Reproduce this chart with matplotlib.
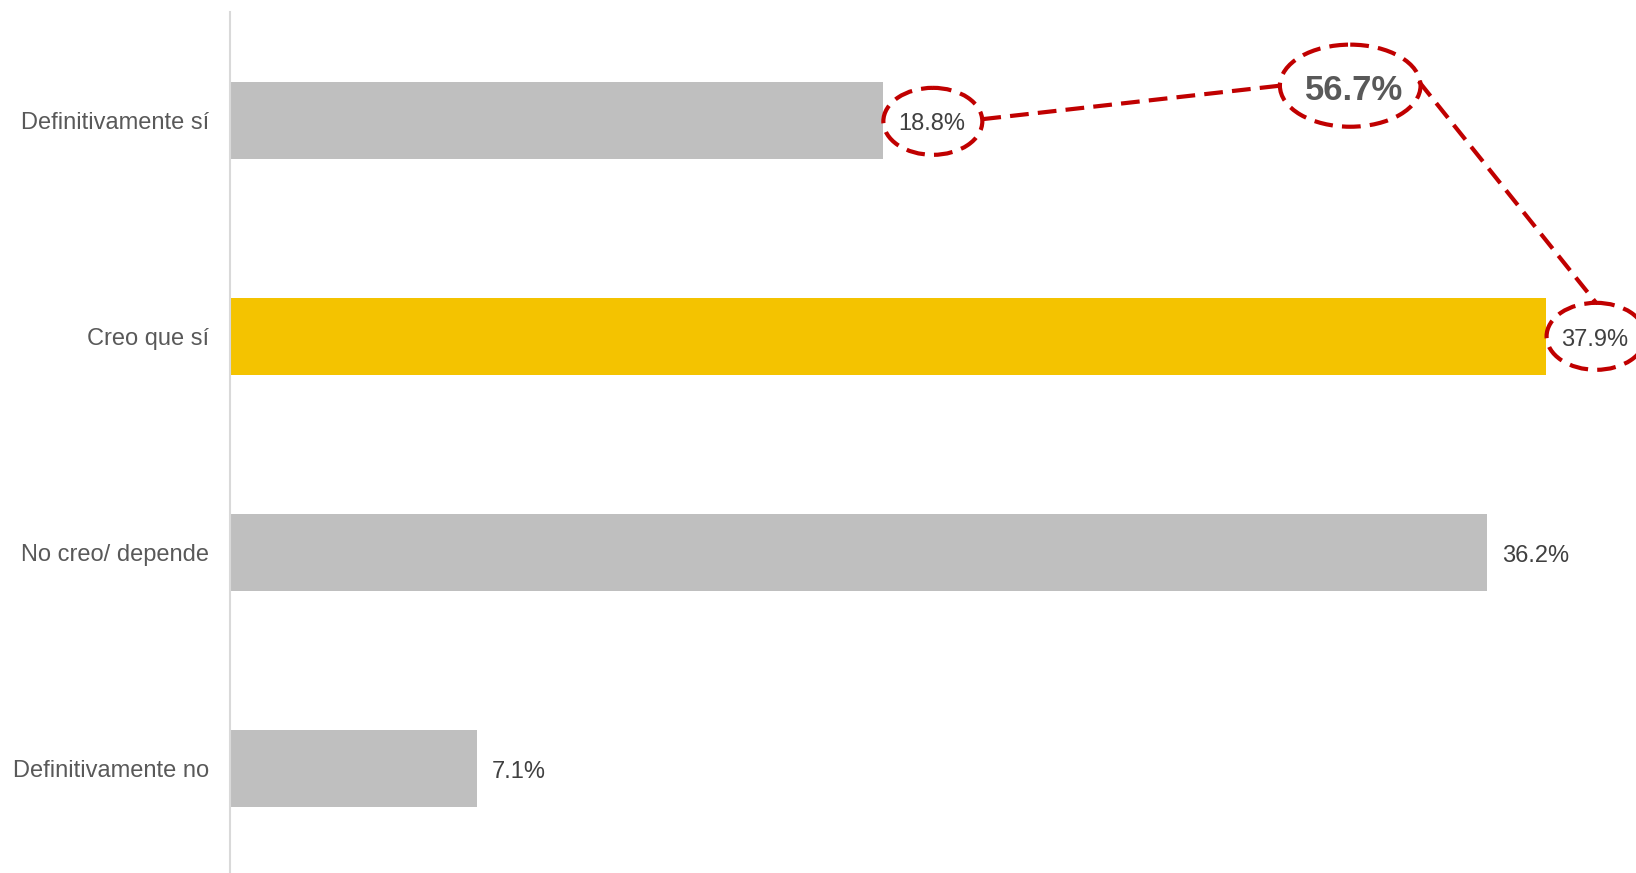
import matplotlib.pyplot as plt
from matplotlib.patches import Ellipse

plt.rcParams['font.family'] = ['Liberation Sans', 'DejaVu Sans']

categories = ["Definitivamente sí", "Creo que sí", "No creo/ depende", "Definitivamente no"]
values = [18.8, 37.9, 36.2, 7.1]
bar_colors = ["#BFBFBF", "#F4C300", "#BFBFBF", "#BFBFBF"]

total_yes = values[0] + values[1]

fig = plt.figure(figsize=(16.36, 8.73), dpi=100)
ax = fig.add_axes([0.1406, -0.004, 0.849, 0.99])

y = list(range(len(categories)))
ax.barh(y, values, height=0.356, color=bar_colors, zorder=2)

ax.set_xlim(0, 40)
ax.set_ylim(3.5, -0.5)
ax.set_yticks(y)
ax.set_yticklabels(categories, fontsize=17, color="#595959")
ax.tick_params(axis="y", length=0, pad=15)
ax.set_xticks([])
for side in ["top", "right", "bottom"]:
    ax.spines[side].set_visible(False)
ax.spines["left"].set_color("#D9D9D9")
ax.spines["left"].set_linewidth(1.5)

# value labels next to each bar
for i, v in enumerate(values):
    ax.text(v + 0.44, i + 0.018, f"{v:.1f}%", va="center", ha="left",
            fontsize=17, color="#404040", clip_on=False)

red = "#C00000"
dash_style = (0, (4.5, 2.2))
dash = dict(color=red, lw=3, linestyle=dash_style, clip_on=False)

# dashed circles round the two "yes" answers
ew, eh = 2.85, 0.31
c1 = (values[0] + 1.44, 0.005)
c2 = (values[1] + 1.44, 1)
for cx, cy in (c1, c2):
    ax.add_patch(Ellipse((cx, cy), ew, eh, fill=False, edgecolor=red,
                         lw=3, linestyle=dash_style, clip_on=False, zorder=3))

# total of both answers, circled above the chart
tw, th = 4.05, 0.38
ct = (32.26, -0.16)
ax.add_patch(Ellipse(ct, tw, th, fill=False, edgecolor=red,
                     lw=3, linestyle=dash_style, clip_on=False, zorder=3))
ax.text(ct[0] + 0.1, ct[1] + 0.02, f"{total_yes:.1f}%", ha="center", va="center",
        fontsize=25, fontweight="bold", color="#595959", clip_on=False)

# connectors between the circles
ax.plot([c1[0] + ew / 2, ct[0] - tw / 2], [c1[1] - 0.01, ct[1]], **dash)
ax.plot([ct[0] + tw / 2 - 0.05, c2[0]], [ct[1] - 0.02, c2[1] - eh / 2], **dash)

fig.savefig("out.png", dpi=100)
